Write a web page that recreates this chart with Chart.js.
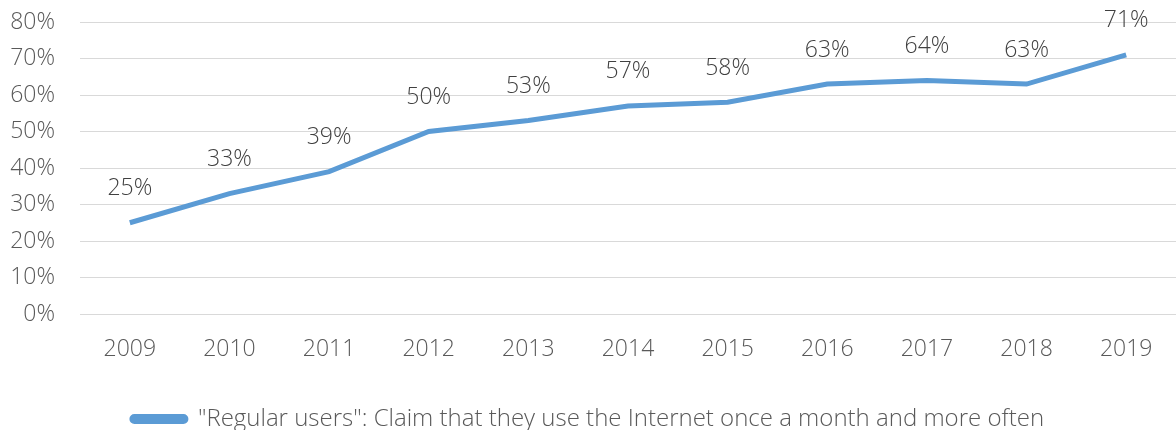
<!DOCTYPE html>
<html lang="en">
<head>
    <meta charset="UTF-8">
    <title>Regular Internet users</title>
    <script src="https://cdn.jsdelivr.net/npm/chart.js"></script>
    <style>
        html, body { margin: 0; padding: 0; background: #fff; }
        #wrap { width: 1176px; height: 430px; }
    </style>
</head>
<body>
    <div id="wrap"><canvas id="Chart"></canvas></div>
    <script>
        const years = ['2009', '2010', '2011', '2012', '2013', '2014', '2015', '2016', '2017', '2018', '2019'];
        const regularUsers = [25, 33, 39, 50, 53, 57, 58, 63, 64, 63, 71];
        const seriesLabel = '"Regular users": Claim that they use the Internet once a month and more often';

        const fontFamily = '"Open Sans", "Noto Sans", sans-serif';

        // draws the % value above each point
        const pointLabels = {
            id: 'pointLabels',
            afterDatasetsDraw(chart) {
                const ctx = chart.ctx;
                const meta = chart.getDatasetMeta(0);
                ctx.save();
                ctx.font = '300 23px ' + fontFamily;
                ctx.fillStyle = '#404040';
                ctx.textAlign = 'center';
                ctx.textBaseline = 'middle';
                meta.data.forEach((pt, i) => {
                    ctx.fillText(regularUsers[i] + '%', pt.x, pt.y - 34);
                });
                ctx.restore();
            }
        };

        new Chart(document.getElementById('Chart'), {
            type: 'line',
            data: {
                labels: years,
                datasets: [{
                    label: seriesLabel,
                    data: regularUsers,
                    borderColor: '#5b9bd5',
                    backgroundColor: '#5b9bd5',
                    borderWidth: 5,
                    pointRadius: 0,
                    pointHoverRadius: 0,
                    tension: 0,
                    fill: false
                }]
            },
            options: {
                responsive: true,
                maintainAspectRatio: false,
                animation: false,
                layout: { padding: { top: 22, right: 0, left: 0, bottom: -11 } },
                scales: {
                    x: {
                        offset: true,
                        afterFit(scale) { scale.height = 86; },
                        grid: { display: false },
                        border: { display: false },
                        ticks: { color: '#595959', font: { family: fontFamily, size: 23, weight: '300' }, padding: 14 }
                    },
                    y: {
                        min: 0,
                        max: 80,
                        afterFit(scale) {
                            scale.width = 80;
                            scale.paddingTop = 0;
                            scale.paddingBottom = 0;
                        },
                        grid: { color: '#d9d9d9', lineWidth: 1, drawTicks: false },
                        border: { display: false },
                        ticks: {
                            stepSize: 10,
                            color: '#595959',
                            padding: 25,
                            font: { family: fontFamily, size: 23, weight: '300' },
                            callback: v => v + '%'
                        }
                    }
                },
                plugins: {
                    tooltip: { enabled: false },
                    legend: {
                        position: 'bottom',
                        labels: {
                            color: '#595959',
                            font: { family: fontFamily, size: 24, weight: '300' },
                            boxWidth: 54,
                            boxHeight: 5,
                            useBorderRadius: true,
                            borderRadius: 2.5,
                            padding: 7
                        }
                    }
                }
            },
            plugins: [pointLabels]
        });
    </script>
</body>
</html>
